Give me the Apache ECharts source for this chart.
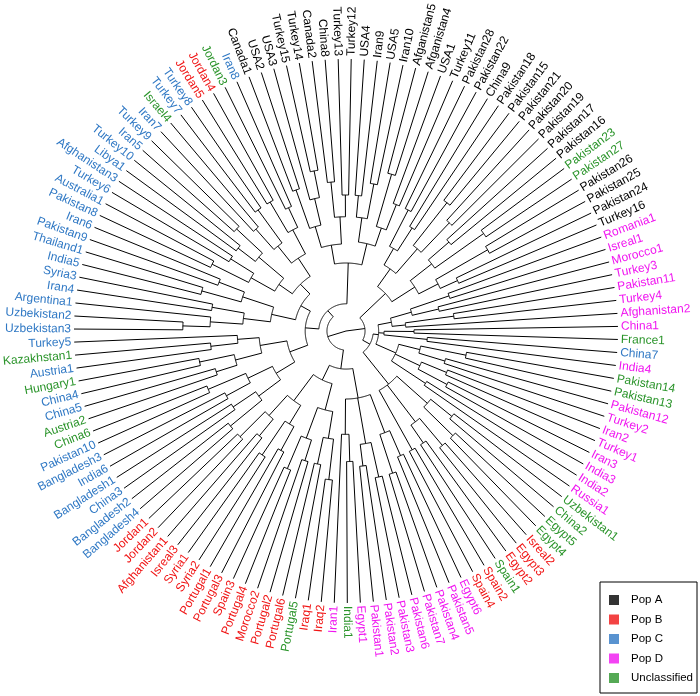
<!DOCTYPE html>
<html><head><meta charset="utf-8">
<script src="https://cdn.jsdelivr.net/npm/echarts@6/dist/echarts.min.js"></script>
<style>html,body{margin:0;padding:0;background:#fff}#c{width:700px;height:696px}</style>
</head><body><div id="c"></div>
<script>
// Leaf labels in dendrogram order (clockwise, starting at Pakistan28 in the upper right)
const leaves = ["Pakistan28","Pakistan22","China9","Pakistan18","Pakistan15","Pakistan21","Pakistan20","Pakistan19","Pakistan17","Pakistan16","Pakistan23","Pakistan27","Pakistan26","Pakistan25","Pakistan24","Turkey16",
"Romania1","Isreal1","Morocco1","Turkey3","Pakistan11","Turkey4","Afghanistan2","China1","France1","China7","India4","Pakistan14","Pakistan13","Pakistan12","Turkey2","Iran2","Turkey1","Iran3","India3","India2","Russia1","Uzbekistan1",
"China2","Egypt5","Egypt4","Isreal2","Egypt3","Egypt2","Spain1","Spain2","Spain4","Egypt6",
"Pakistan5","Pakistan4","Pakistan7","Pakistan6","Pakistan3","Pakistan2","Pakistan1","Egypt1","India1","Iran1",
"Iraq2","Iraq1","Portugal5","Portugal6","Portugal2","Morocco2","Portugal4","Spain3","Portugal3","Portugal1","Syria2","Syria1","Isreal3","Afghanistan1","Jordan2","Jordan1",
"Bangladesh4","Bangladesh2","China3","Bangladesh1","India6","Bangladesh3","Pakistan10","China6","Austria2","China5","China4","Hungary1","Austria1","Kazakhstan1","Turkey5","Uzbekistan3","Uzbekistan2","Argentina1","Iran4","Syria3","India5","Thailand1","Pakistan9","Iran6","Pakistan8","Australia1","Turkey6","Afghanistan3","Libya1","Turkey10","Iran5","Turkey9","Iran7","Israel4","Turkey7","Turkey8","Jordan5","Jordan4","Jordan3","Iran8",
"Canada1","USA2","USA3","Turkey15","Turkey14","Canada2","China8","Turkey13","Turkey12","USA4","Iran9","USA5","Iran10","Afganistan5","Afganistan4","USA1","Turkey11"];
// Group of each leaf (same order): A=Pop A, B=Pop B, C=Pop C, D=Pop D, U=Unclassified
const leafGroups = ("AAAAAAAAAAUUAAAA" + "DDDDDDDDUCDUUDDDDDDDDU" + "UUUBBBUBBD" + "DDDDDDDDUD" + "BBUBBBBBBBBBBBBB" +
  "CCCCCCCUUCCUCU" + "CCCCCCCCCCCCCCCCCCC" + "UCCBBUC" + "AAAAAAAAAAAAAAAAA").split("");
const groupKeys = ["A","B","C","D","U"];
const groupNames = ["Pop A","Pop B","Pop C","Pop D","Unclassified"];
const groupColors = ["#000000","#f01414","#2f78c4","#f014f0","#2a942a"];
// Tree topology (Newick); the number after ")" is the radius of that node (root 0, leaves 1)
const clusterRT = "((((Pakistan28,Pakistan22)0.5,(China9,Pakistan18)0.45)0.35,((Pakistan15,Pakistan21)0.6,(Pakistan20,Pakistan19)0.55)0.4)0.28,(((Pakistan17,Pakistan16)0.5,(Pakistan23,Pakistan27)0.62)0.4,((Pakistan26,Pakistan25)0.6,(Pakistan24,Turkey16)0.45)0.38)0.3)0.2";
const clusterRfan = "((((Romania1,Isreal1)0.4,(Morocco1,Turkey3)0.35)0.25,((Pakistan11,Turkey4)0.4,Afghanistan2)0.22)0.17,((China1,France1)0.25,(China7,India4)0.3)0.14,(((Pakistan14,Pakistan13)0.45,(Pakistan12,Turkey2)0.38)0.28,((Iran2,Turkey1)0.4,(Iran3,India3)0.42)0.3,(India2,Russia1)0.35)0.2)0.12";
const clusterES = "(((Uzbekistan1,China2)0.5,(Egypt5,Egypt4)0.55)0.4,((Isreal2,Egypt3)0.55,(Egypt2,Spain1)0.5)0.42,(Spain2,Spain4)0.5)0.25";
const clusterL1b = "(((Egypt6,Pakistan5)0.5,(Pakistan4,Pakistan7)0.55)0.4,((Pakistan6,Pakistan3)0.55,(Pakistan2,Pakistan1)0.5)0.42,((Egypt1,India1)0.48,Iran1)0.38)0.25";
const clusterL1c = "((((Iraq2,Iraq1)0.55,(Portugal5,Portugal6)0.5)0.4,((Portugal2,Morocco2)0.5,(Portugal4,Spain3)0.55)0.42)0.3,(((Portugal3,Portugal1)0.5,(Syria2,Syria1)0.55)0.4,((Isreal3,Afghanistan1)0.5,(Jordan2,Jordan1)0.55)0.42)0.32)0.2";
const clusterX1 = "((((Bangladesh4,Bangladesh2)0.55,(China3,Bangladesh1)0.5)0.4,((India6,Bangladesh3)0.5,(Pakistan10,China6)0.55)0.4)0.3,(((Austria2,China5)0.5,(China4,Hungary1)0.55)0.42,((Austria1,Kazakhstan1)0.5,Turkey5)0.4)0.32)0.22";
const clusterX2 = "((((Uzbekistan3,Uzbekistan2)0.6,Argentina1)0.5,(Iran4,Syria3)0.5)0.38,((India5,Thailand1)0.55,(Pakistan9,Iran6)0.5)0.4)0.28";
const clusterX3 = "((((Pakistan8,Australia1)0.55,(Turkey6,Afghanistan3)0.5)0.4,((Libya1,Turkey10)0.5,(Iran5,Turkey9)0.55)0.42)0.3,(((Iran7,Israel4)0.5,(Turkey7,Turkey8)0.55)0.4,((Jordan5,Jordan4)0.55,(Jordan3,Iran8)0.5)0.42)0.32)0.24";
const clusterLTb = "((((Canada1,USA2)0.55,(USA3,(Turkey15,Turkey14)0.6)0.5)0.4,((Canada2,China8)0.55,(Turkey13,Turkey12)0.5)0.42)0.32,(((USA4,Iran9)0.5,(USA5,Iran10)0.55)0.42,((Afganistan5,Afganistan4)0.6,(USA1,Turkey11)0.5)0.4)0.33)0.25";
const newick = "((" + clusterRT + ",(" + clusterRfan + "," + clusterES + ")0.1)0.07,((" + clusterL1b + "," + clusterL1c + ")0.14,((" +
  clusterX1 + ",(" + clusterX2 + "," + clusterX3 + ")0.19)0.15," + clusterLTb + ")0.1)0.07)0";

// ---- parse tree ----
function parseNewick(s){
  let i=0;
  function node(){
    if(s[i]==="("){
      i++; const ch=[];
      while(true){ ch.push(node()); if(s[i]===","){i++;continue;} if(s[i]===")"){i++;break;} }
      let num=""; while(i<s.length && /[0-9.]/.test(s[i])) num+=s[i++];
      return {children:ch, r:parseFloat(num)};
    } else {
      let name=""; while(i<s.length && !/[(),]/.test(s[i])) name+=s[i++];
      return {name:name, r:1, a:leaves.indexOf(name)};
    }
  }
  return node();
}
const root = parseNewick(newick);
const segs = [];
(function walk(n){
  if(!n.children) return n.a;
  const angs = n.children.map(walk);
  n.a = (angs[0] + angs[angs.length-1]) / 2;
  segs.push([1, n.r, n.r, angs[0], angs[angs.length-1]]);
  n.children.forEach(c => segs.push([0, n.r, c.r, c.a, c.a]));
  return n.a;
})(root);
const labelData = leaves.map((name, i) => [1, i, groupKeys.indexOf(leafGroups[i])]);

const chart = echarts.init(document.getElementById("c"), null, {renderer: "canvas"});
chart.setOption({
  animation: false,
  backgroundColor: "#ffffff",
  polar: {center: [346, 331], radius: [0, 272]},
  angleAxis: {type: "value", min: 0, max: leaves.length, startAngle: 90 - 9.4 * 360 / leaves.length, clockwise: true, show: false},
  radiusAxis: {type: "value", min: 0, max: 1, show: false},
  legend: {
    orient: "vertical", right: 3, bottom: 3, itemWidth: 10, itemHeight: 10, itemGap: 7.5,
    padding: [12, 4, 9, 9], borderColor: "#000", borderWidth: 1, borderRadius: 0,
    textStyle: {fontFamily: "Liberation Sans, Arial, sans-serif", fontSize: 11.5, color: "#000", padding: [0, 0, 0, 7]},
    data: groupNames.map((g, k) => ({name: g, icon: "rect", itemStyle: {color: groupColors[k]}}))
  },
  series: [
    {
      type: "custom", coordinateSystem: "polar", silent: true,
      encode: {radius: 1, angle: 3},
      data: segs,
      renderItem: function(params, api){
        const t = api.value(0), r0 = api.value(1), r1 = api.value(2), a0 = api.value(3), a1 = api.value(4);
        let pts = [];
        if (t === 0) { pts = [api.coord([r0, a0]), api.coord([r1, a0])]; }
        else {
          const n = Math.max(2, Math.ceil(Math.abs(a1 - a0) * 6));
          for (let k = 0; k <= n; k++) pts.push(api.coord([r0, a0 + (a1 - a0) * k / n]));
        }
        return {type: "polyline", shape: {points: pts}, style: {stroke: "#000", lineWidth: 1, fill: null}};
      }
    },
    {
      type: "custom", coordinateSystem: "polar", silent: true,
      encode: {radius: 0, angle: 1},
      data: labelData,
      renderItem: function(params, api){
        const r = api.value(0), a = api.value(1), g = api.value(2);
        const c = api.coord([0, a]);
        const p = api.coord([r, a]);
        const th = Math.atan2(p[1] - c[1], p[0] - c[0]);
        const right = Math.cos(th) >= 0;
        const gap = 3;
        const x = p[0] + gap * Math.cos(th), y = p[1] + gap * Math.sin(th);
        return {
          type: "text", x: x, y: y, rotation: right ? -th : Math.PI - th,
          style: {text: leaves[params.dataIndex], fill: groupColors[g], align: right ? "left" : "right", verticalAlign: "middle",
                  fontFamily: "Liberation Sans, Arial, sans-serif", fontSize: 12}
        };
      }
    }
  ].concat(groupNames.map((g, k) => ({name: g, type: "scatter", coordinateSystem: "polar", data: [], itemStyle: {color: groupColors[k]}})))
});
</script></body></html>
